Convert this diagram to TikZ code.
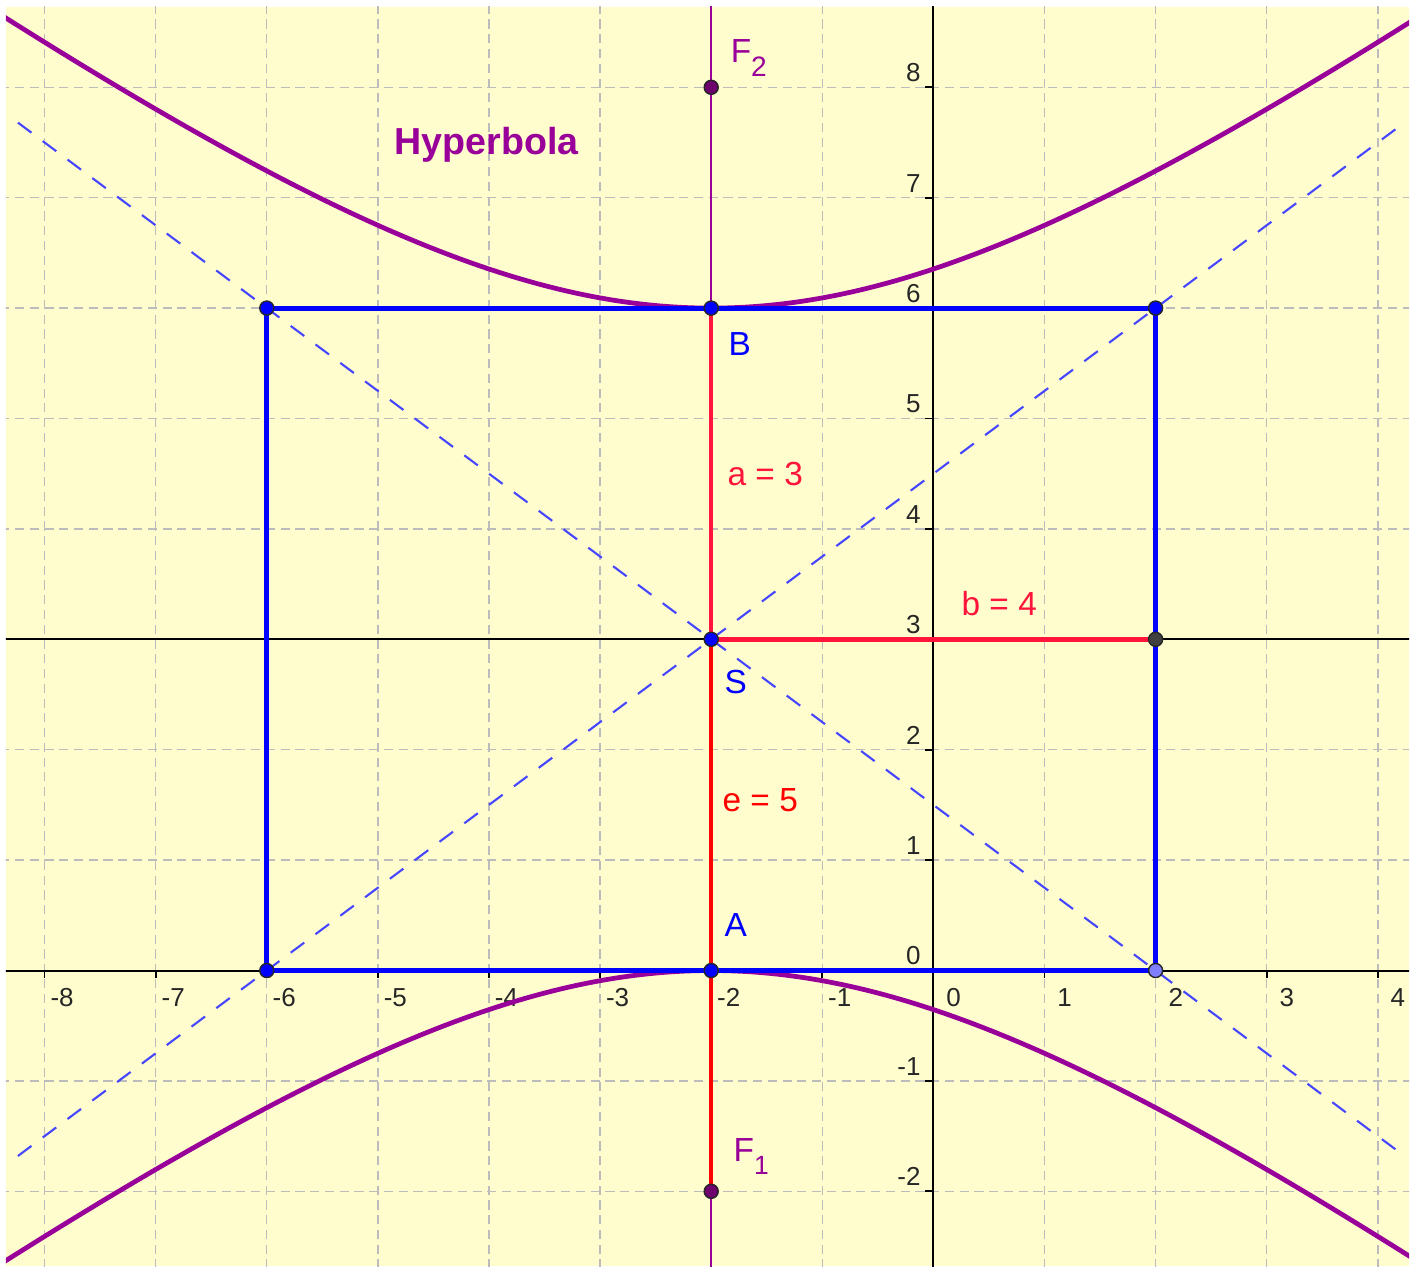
\documentclass[tikz,border=0pt]{standalone}
\usepackage{fontspec}
\setmainfont{Liberation Sans}
\definecolor{bgyellow}{RGB}{255,253,206}
\definecolor{gridgray}{RGB}{188,188,188}
\definecolor{hyppurple}{RGB}{153,0,153}
\definecolor{focpurple}{RGB}{110,0,110}
\definecolor{rectblue}{RGB}{0,0,255}
\definecolor{asymblue}{RGB}{70,70,255}
\definecolor{crimsonred}{RGB}{255,20,60}
\definecolor{purered}{RGB}{255,0,0}
\definecolor{ptlight}{RGB}{128,128,255}
\definecolor{ptgray}{RGB}{64,64,64}
\begin{document}
\begin{tikzpicture}[x=1.111cm, y=1.104cm,
  gridline/.style={gridgray, line width=0.4pt, dash pattern=on 2.6pt off 1.6pt},
  axisline/.style={black, line width=0.57pt},
  tickline/.style={black, line width=0.5pt},
  auxline/.style={black, line width=0.5pt},
  focline/.style={hyppurple, line width=0.57pt},
  asymline/.style={asymblue, line width=0.6pt, dash pattern=on 4.8pt off 4pt},
  hypline/.style={hyppurple, line width=1.35pt},
  rectline/.style={rectblue, line width=1.4pt},
  aseg/.style={crimsonred, line width=1.3pt},
  eseg/.style={purered, line width=1.3pt},
  axlabel/.style={inner sep=0pt, font=\fontsize{7.4}{8}\selectfont, text=black!85},
  ptlabel/.style={inner sep=0pt, anchor=base west, font=\fontsize{9.5}{11}\selectfont},
  dot/.style={draw=black!85, line width=0.4pt}
]
% bounding box (white margin) and yellow sheet
\useasboundingbox (-8.4014,-2.6857) rectangle (4.3258,8.7908);
\fill[white] (-8.4014,-2.6857) rectangle (4.3258,8.7908);
\fill[bgyellow] (-8.3474,-2.68) rectangle (4.2808,8.7274);
\begin{scope}
\clip (-8.3474,-2.68) rectangle (4.2808,8.7274);
% grid
\foreach \i in {-8,...,4} \draw[gridline] (\i,-2.7) -- (\i,8.8);
\foreach \j in {-2,...,8} \draw[gridline] (-8.4,\j) -- (4.4,\j);
% axes
\coordinate (xl) at (-8.4,0);
\coordinate (xr) at (4.4,0);
\coordinate (yb) at (0,-2.7);
\coordinate (yt) at (0,8.8);
\draw[axisline] (xl) -- (xr);
\draw[axisline] (yb) -- (yt);
% ticks
\foreach \i in {-8,...,4} \draw[tickline] (\i,0) -- (\i,-0.072);
\foreach \j in {-2,...,8} \draw[tickline] (0,\j) -- (-0.072,\j);
% axis labels
\foreach \i in {-8,...,-1} \node[axlabel, anchor=north west] (xlab\i) at (\i+0.125,-0.155) {\llap{-}\the\numexpr-\i\relax};
\foreach \i in {0,...,4} \node[axlabel, anchor=north west] (xlab\i) at (\i+0.11,-0.155) {\i};
\foreach \j in {0,...,8} \node[axlabel, anchor=south east] (ylab\j) at (-0.11,\j+0.045) {\j};
\foreach \j in {1,2} \node[axlabel, anchor=south east] (ylabm\j) at (-0.11,-\j+0.045) {-\j};
% named points
\coordinate (S) at (-2,3);
\coordinate (A) at (-2,0);
\coordinate (B) at (-2,6);
\coordinate (F1) at (-2,-2);
\coordinate (F2) at (-2,8);
\coordinate (P1) at (-6,0);
\coordinate (P2) at (2,0);
\coordinate (P3) at (2,6);
\coordinate (P4) at (-6,6);
\coordinate (Q) at (2,3);
\coordinate (hl) at (-8.4,3);
\coordinate (hr) at (4.4,3);
\coordinate (ft) at (-2,8.8);
\coordinate (fb) at (-2,-2.7);
\coordinate (u1) at (-8.24,-1.68);
\coordinate (u2) at (4.245,7.684);
\coordinate (d1) at (-8.24,7.68);
\coordinate (d2) at (4.245,-1.684);
% line through S parallel to x-axis, focal axis
\draw[auxline] (hl) -- (hr);
\draw[focline] (ft) -- (fb);
% asymptotes
\draw[asymline] (u1) -- (u2);
\draw[asymline] (d1) -- (d2);
% hyperbola
\draw[hypline] plot[domain=-8.5:4.5, samples=160, smooth] (\x,{3+3*sqrt(1+(\x+2)^2/16)});
\draw[hypline] plot[domain=-8.5:4.5, samples=160, smooth] (\x,{3-3*sqrt(1+(\x+2)^2/16)});
% rectangle
\draw[rectline] (P1) -- (P2) -- (P3) -- (P4) -- cycle;
% red segments
\draw[aseg] (S) -- (B);
\draw[aseg] (S) -- (Q);
\draw[eseg] (S) -- (F1);
\end{scope}
% points
\foreach \p in {P1,P3,P4,A,B,S} \filldraw[dot, fill=rectblue] (\p) circle (2pt);
\filldraw[dot, fill=ptlight] (P2) circle (2pt);
\filldraw[dot, fill=ptgray] (Q) circle (2pt);
\filldraw[dot, fill=focpurple] (F1) circle (2pt);
\filldraw[dot, fill=focpurple] (F2) circle (2pt);
% labels
\node[ptlabel, text=hyppurple] (labF2) at (-1.83,8.229) {F\raisebox{-4pt}{\fontsize{8}{9}\selectfont 2}};
\node[ptlabel, text=rectblue] (labB) at (-1.849,5.575) {B};
\node[ptlabel, text=crimsonred] (laba) at (-1.858,4.389) {a = 3};
\node[ptlabel, text=crimsonred] (labb) at (0.248,3.22) {b = 4};
\node[ptlabel, text=rectblue] (labS) at (-1.885,2.505) {S};
\node[ptlabel, text=purered] (labe) at (-1.903,1.436) {e = 5};
\node[ptlabel, text=rectblue] (labA) at (-1.885,0.304) {A};
\node[ptlabel, text=hyppurple] (labF1) at (-1.804,-1.734) {F\raisebox{-3.7pt}{\fontsize{7.5}{9}\selectfont 1}};
\node[inner sep=0pt, anchor=base west, text=hyppurple, font=\fontsize{10.7}{12}\selectfont\bfseries] (title) at (-4.855,7.387) {Hyperbola};
\end{tikzpicture}
\end{document}
